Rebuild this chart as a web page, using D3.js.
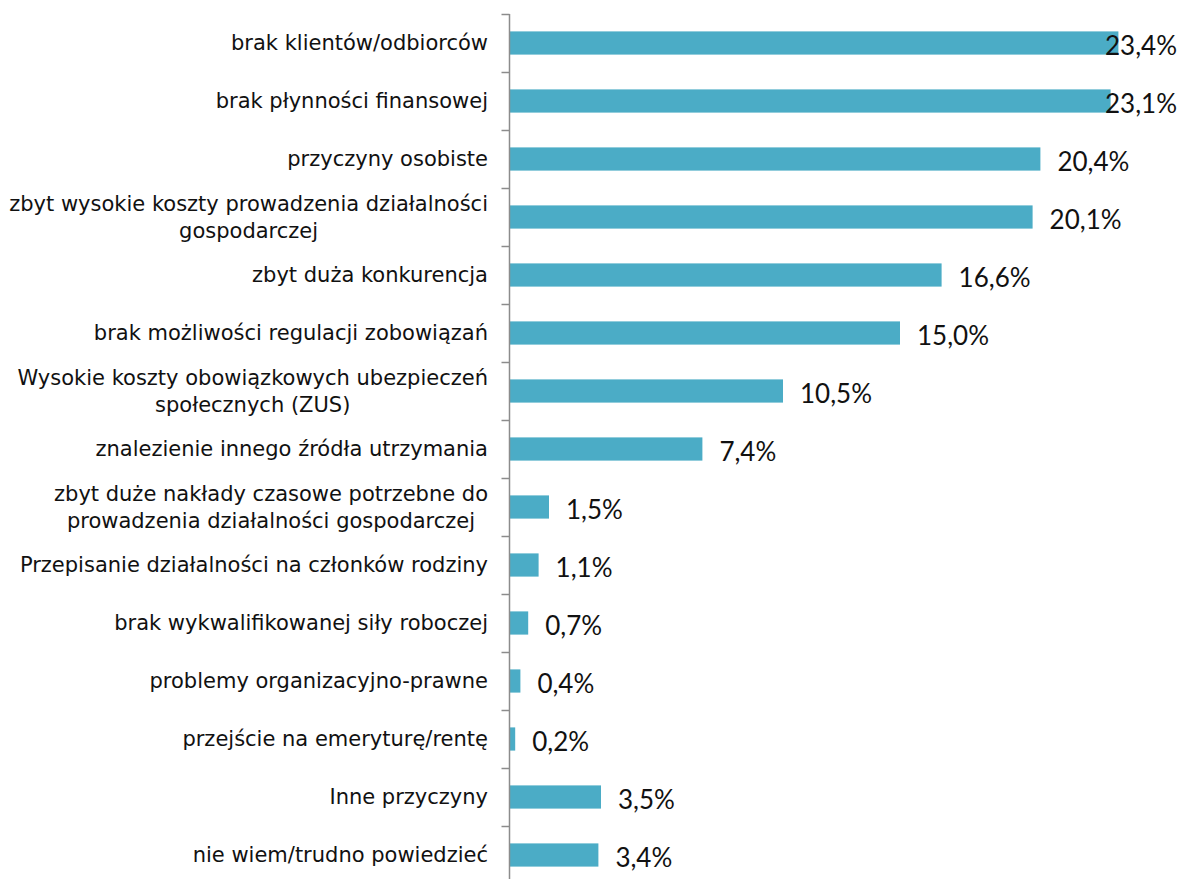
<!DOCTYPE html>
<html>
<head>
<meta charset="utf-8">
<script src="https://cdn.jsdelivr.net/npm/d3@7"></script>
<style>
  html, body { margin: 0; padding: 0; background: #fff; }
  svg { display: block; }
</style>
</head>
<body>
<svg id="chart" width="1183" height="879"></svg>
<script>
// Reasons for closing a business (share of respondents, %)
const categories = [
  "brak klientów/odbiorców",
  "brak płynności finansowej",
  "przyczyny osobiste",
  "zbyt wysokie koszty prowadzenia działalności\ngospodarczej",
  "zbyt duża konkurencja",
  "brak możliwości regulacji zobowiązań",
  "Wysokie koszty obowiązkowych ubezpieczeń\nspołecznych (ZUS)",
  "znalezienie innego źródła utrzymania",
  "zbyt duże nakłady czasowe potrzebne do\nprowadzenia działalności gospodarczej",
  "Przepisanie działalności na członków rodziny",
  "brak wykwalifikowanej siły roboczej",
  "problemy organizacyjno-prawne",
  "przejście na emeryturę/rentę",
  "Inne przyczyny",
  "nie wiem/trudno powiedzieć"
];
const values = [23.4, 23.1, 20.4, 20.1, 16.6, 15.0, 10.5, 7.4, 1.5, 1.1, 0.7, 0.4, 0.2, 3.5, 3.4];
const valueLabels = ["23,4%", "23,1%", "20,4%", "20,1%", "16,6%", "15,0%", "10,5%", "7,4%", "1,5%", "1,1%", "0,7%", "0,4%", "0,2%", "3,5%", "3,4%"];

const svg = d3.select("#chart");
const axisX = 509.5;
const plotTop = 14, plotBottom = 884;
const labelRight = 1177;

const x = d3.scaleLinear().domain([0, 25]).range([510, 1160]);
const y = d3.scaleBand().domain(categories).range([plotTop, plotBottom])
  .paddingInner(0.6).paddingOuter(0.3);
const step = y.step();

// bars
svg.append("g").selectAll("rect")
  .data(categories)
  .join("rect")
  .attr("x", x(0))
  .attr("y", d => y(d))
  .attr("width", (d, i) => x(values[i]) - x(0))
  .attr("height", y.bandwidth())
  .attr("fill", "#4BACC6");

// category axis: line and tick marks at band boundaries
const axisG = svg.append("g");
axisG.append("line")
  .attr("x1", axisX).attr("x2", axisX)
  .attr("y1", plotTop).attr("y2", plotBottom)
  .attr("stroke", "#8c8c8c").attr("stroke-width", 1.5);
axisG.selectAll("line.tick")
  .data(d3.range(categories.length + 1))
  .join("line")
  .attr("class", "tick")
  .attr("x1", axisX - 8).attr("x2", axisX)
  .attr("y1", i => plotTop + i * step + 0.5)
  .attr("y2", i => plotTop + i * step + 0.5)
  .attr("stroke", "#8c8c8c").attr("stroke-width", 1.5);

// category labels (multi-line labels are centred on each other, block right-aligned)
const lineH = 27;
const catG = svg.append("g")
  .attr("font-family", "'DejaVu Sans', Verdana, sans-serif")
  .attr("font-size", 21)
  .attr("fill", "#111");
categories.forEach((c, i) => {
  const lines = c.split("\n");
  const cy = y(c) + y.bandwidth() / 2;
  const t = catG.append("text");
  lines.forEach((ln, k) => {
    t.append("tspan")
      .attr("y", cy + 7 + (k - (lines.length - 1) / 2) * lineH)
      .text(ln);
  });
  const widths = t.selectAll("tspan").nodes().map(n => n.getComputedTextLength());
  const maxW = d3.max(widths);
  t.selectAll("tspan")
    .attr("x", 488 - maxW / 2)
    .attr("text-anchor", "middle");
});

// value labels
const valG = svg.append("g")
  .attr("font-family", "Lato, 'Liberation Sans', sans-serif")
  .attr("font-size", 26)
  .attr("fill", "#111");
categories.forEach((c, i) => {
  const t = valG.append("text")
    .attr("y", y(c) + y.bandwidth() / 2 + 12)
    .text(valueLabels[i]);
  const w = t.node().getComputedTextLength();
  let lx = x(values[i]) + 17;
  if (lx + w > labelRight) lx = labelRight - w;
  t.attr("x", lx);
});
</script>
</body>
</html>
